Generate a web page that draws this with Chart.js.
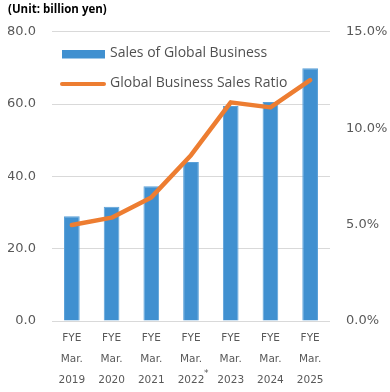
<!DOCTYPE html>
<html><head><meta charset="utf-8">
<script src="https://cdn.jsdelivr.net/npm/chart.js@4/dist/chart.umd.min.js"></script>
<style>html,body{margin:0;padding:0;background:#fff;}#wrap{width:390px;height:392px;}</style>
</head><body><div id="wrap"><canvas id="c" width="390" height="392"></canvas></div>
<script>
const categories = [["FYE","Mar.","2019"],["FYE","Mar.","2020"],["FYE","Mar.","2021"],["FYE","Mar.","2022"],["FYE","Mar.","2023"],["FYE","Mar.","2024"],["FYE","Mar.","2025"]];
const salesGlobal = [29.0, 31.6, 37.3, 44.0, 59.5, 60.6, 69.9];
const salesRatio = [4.98, 5.36, 6.41, 8.6, 11.34, 11.08, 12.49];
const leftTicks = [0, 20, 40, 60, 80];
const rightTicks = [0, 5, 10, 15];
const seriesNames = ["Sales of Global Business", "Global Business Sales Ratio"];
const titleText = "(Unit: billion yen)";
const footnoteMark = "*";
const footnoteIndex = 3;

const BLUE = '#4090D0', ORANGE = '#ED7D31', TXT = '#595959', GRID = '#D9D9D9';

const legendPlugin = {
  id: 'customLegend',
  afterDraw(chart) {
    const ctx = chart.ctx;
    ctx.save();
    ctx.fillStyle = BLUE;
    ctx.fillRect(62, 50, 43, 8.5);
    ctx.strokeStyle = ORANGE; ctx.lineWidth = 4; ctx.lineCap = 'round';
    ctx.beginPath(); ctx.moveTo(62, 84); ctx.lineTo(104, 84); ctx.stroke();
    ctx.fillStyle = '#505050';
    ctx.font = '14px "Open Sans"';
    ctx.textBaseline = 'middle';
    ctx.fillText(seriesNames[0], 110, 53);
    ctx.fillText(seriesNames[1], 110, 83);
    const xs = chart.scales.x;
    ctx.fillStyle = TXT;
    ctx.font = '9px "DejaVu Sans"';
    ctx.fillText(footnoteMark, xs.getPixelForValue(footnoteIndex) + 13, 374);
    ctx.restore();
  }
};

new Chart(document.getElementById('c'), {
  data: {
    labels: categories,
    datasets: [
      { type: 'line', label: seriesNames[1], data: salesRatio, yAxisID: 'y1', borderColor: ORANGE, borderWidth: 4.5, pointRadius: 0, borderCapStyle: 'round', borderJoinStyle: 'round', tension: 0, order: 0 },
      { type: 'bar', label: seriesNames[0], data: salesGlobal, yAxisID: 'y', backgroundColor: BLUE, borderColor: '#5AA0D8', borderWidth: 1, categoryPercentage: 1, barPercentage: 0.395, order: 1 }
    ]
  },
  options: {
    responsive: false, animation: false,
    layout: { padding: { left: 8, right: 0, top: 0, bottom: 0 } },
    plugins: {
      legend: { display: false },
      tooltip: { enabled: false },
      title: { display: true, text: titleText, align: 'start', color: '#000', font: { family: '"Open Sans"', size: 11.5, weight: 'bold' }, padding: { top: 3, bottom: 15 } }
    },
    scales: {
      x: {
        grid: { display: false, drawTicks: false },
        border: { display: false },
        ticks: { color: TXT, font: { family: '"DejaVu Sans"', size: 10.5, lineHeight: 2 }, padding: 7, maxRotation: 0, autoSkip: false },
        afterFit(s) { s.height = 71; }
      },
      y: {
        position: 'left', min: 0, max: 80,
        afterBuildTicks(s) { s.ticks = leftTicks.map(v => ({ value: v })); },
        grid: { color: GRID, drawTicks: false, lineWidth: 1 },
        border: { display: false },
        ticks: { color: TXT, font: { family: '"DejaVu Sans"', size: 13 }, padding: 16, callback: v => v.toFixed(1) },
        afterFit(s) { s.width = 44; }
      },
      y1: {
        position: 'right', min: 0, max: 15,
        afterBuildTicks(s) { s.ticks = rightTicks.map(v => ({ value: v })); },
        grid: { display: false, drawTicks: false },
        border: { display: false },
        ticks: { color: TXT, font: { family: '"DejaVu Sans"', size: 13 }, padding: 16, callback: v => v.toFixed(1) + '%' },
        afterFit(s) { s.width = 60; }
      }
    }
  },
  plugins: [legendPlugin]
});
</script></body></html>
